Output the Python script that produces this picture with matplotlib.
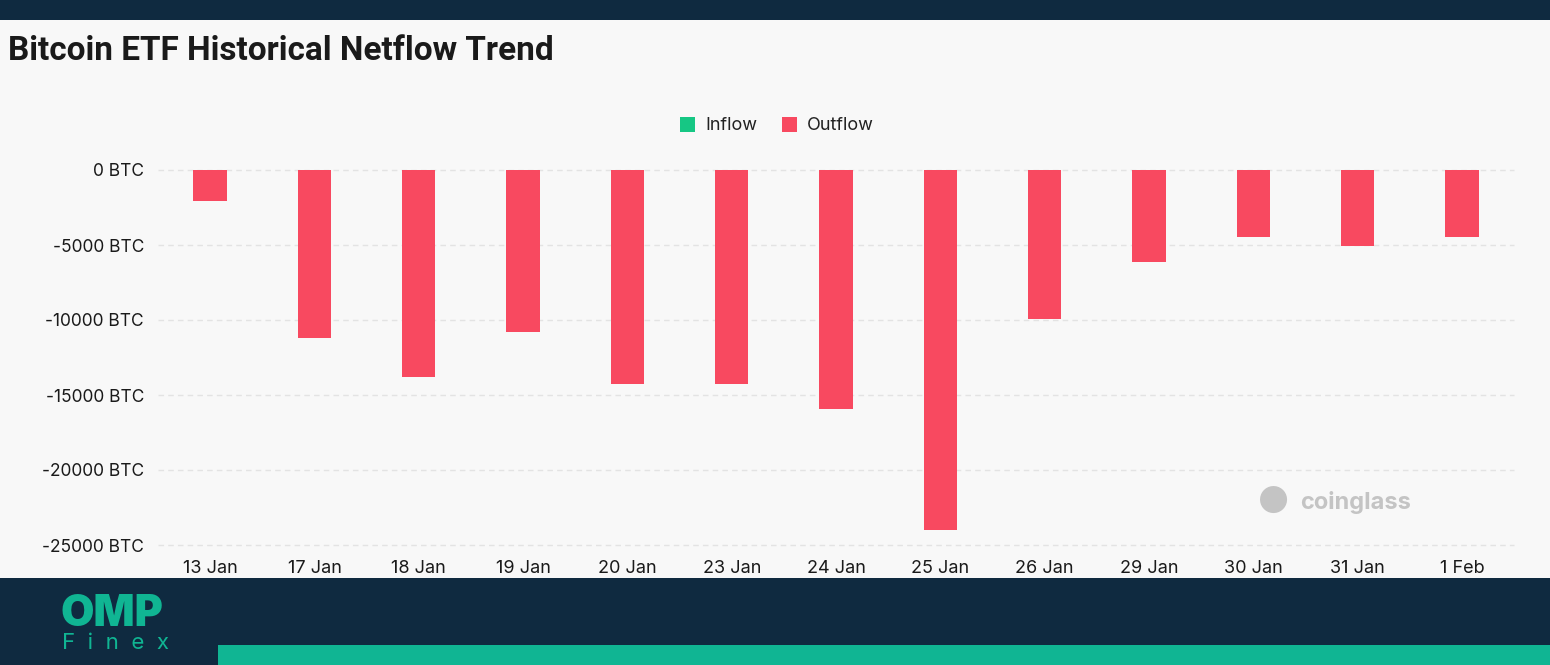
import matplotlib.pyplot as plt
from matplotlib.patches import Rectangle

# Netflow data (BTC)
dates = ['13 Jan', '17 Jan', '18 Jan', '19 Jan', '20 Jan', '23 Jan', '24 Jan',
         '25 Jan', '26 Jan', '29 Jan', '30 Jan', '31 Jan', '1 Feb']
netflow = [-2070, -11200, -13800, -10800, -14270, -14270, -15930,
           -24000, -9930, -6130, -4470, -5070, -4470]
y_ticks = [0, -5000, -10000, -15000, -20000, -25000]

bg = '#f8f8f8'
navy = '#0f2a40'
teal = '#10b593'
red = '#f84960'
green = '#16c784'

plt.rcParams['font.family'] = ['Inter', 'DejaVu Sans']

fig = plt.figure(figsize=(15.5, 6.65), dpi=100)
fig.patch.set_facecolor(bg)

# top and bottom bands
fig.patches.append(Rectangle((0, 1 - 20 / 665), 1, 20 / 665, transform=fig.transFigure,
                             facecolor=navy, edgecolor='none', zorder=0))
fig.patches.append(Rectangle((0, 0), 1, 87 / 665, transform=fig.transFigure,
                             facecolor=navy, edgecolor='none', zorder=0))
fig.patches.append(Rectangle((218 / 1550, 0), 1, 20 / 665, transform=fig.transFigure,
                             facecolor=teal, edgecolor='none', zorder=1))

# title
fig.text(8 / 1550, 1 - 51 / 665, 'Bitcoin ETF Historical Netflow Trend', fontsize=24,
         fontweight='bold', color='#1a1a1a', ha='left', va='center', family='Roboto')

# logo
fig.text(61 / 1550, 1 - 614 / 665, 'OMP', fontsize=31, fontweight='black', color=teal,
         ha='left', va='center')
fig.text(62 / 1550, 1 - 643 / 665, 'F  i  n  e  x', fontsize=16, color=teal,
         ha='left', va='center')

ax = fig.add_axes([158 / 1550, 1 - 545 / 665, (1514 - 158) / 1550, 375 / 665])
ax.set_facecolor(bg)

x = range(len(dates))
ax.bar(x, netflow, width=0.32, color=red, zorder=3)
ax.set_xlim(-0.5, len(dates) - 0.5)
ax.set_ylim(-25000, 0)
ax.set_yticks(y_ticks)
ax.set_yticklabels([f'{v} BTC' for v in y_ticks])
ax.set_xticks(list(x))
ax.set_xticklabels(dates)

for v in y_ticks:
    ax.axhline(v, color='#e3e3e3', linestyle=(0, (4, 3)), linewidth=1, zorder=1, clip_on=False)

for s in ax.spines.values():
    s.set_visible(False)
ax.tick_params(axis='both', length=0, colors='#1a1a1a')
ax.tick_params(axis='y', pad=10, labelsize=12.5)
ax.tick_params(axis='x', pad=11, labelsize=13)

# legend
lx, ly = 680 / 1550, 1 - 125 / 665
fig.patches.append(Rectangle((lx, ly - 7 / 665), 15 / 1550, 15 / 665, transform=fig.transFigure,
                             facecolor=green, edgecolor='none'))
fig.text(705 / 1550, ly, 'Inflow', fontsize=13, color='#222222', ha='left', va='center')
fig.patches.append(Rectangle((782 / 1550, ly - 7 / 665), 15 / 1550, 15 / 665,
                             transform=fig.transFigure, facecolor=red, edgecolor='none'))
fig.text(807 / 1550, ly, 'Outflow', fontsize=13, color='#222222', ha='left', va='center')

# watermark
fig.text(1300 / 1550, 1 - 502 / 665, 'coinglass', fontsize=17, fontweight='bold',
         color='#c4c4c4', ha='left', va='center')
fig.text(1273 / 1550, 1 - 503 / 665, '\u25CF', fontsize=26, color='#c4c4c4',
         ha='center', va='center')

fig.savefig('out.png', dpi=100, facecolor=bg)
